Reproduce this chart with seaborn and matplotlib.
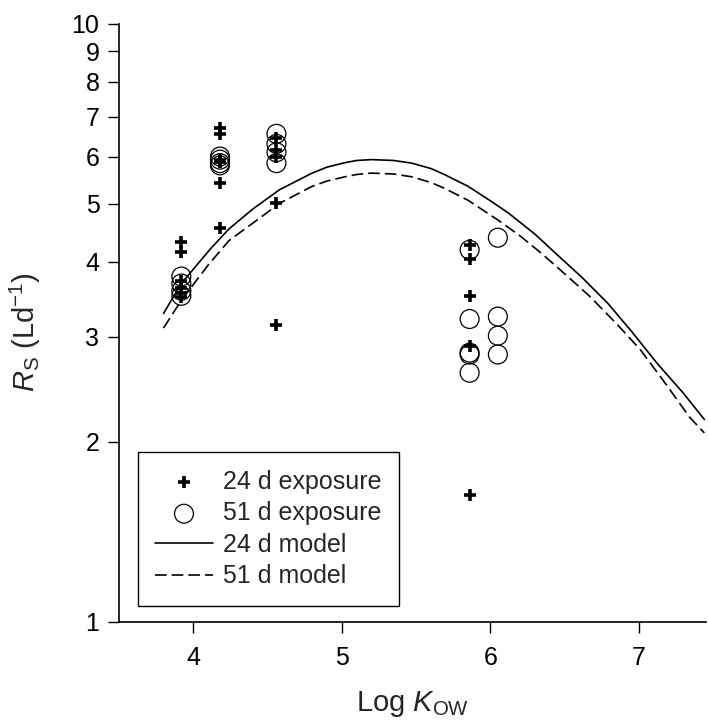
import matplotlib
matplotlib.use("Agg")
from matplotlib import pyplot as plt
from matplotlib.ticker import FixedLocator, NullLocator
import seaborn as sns
import numpy as np

# 24 d exposure (crosses)
kow_24 = [3.92, 3.92, 3.92, 3.92, 3.92, 3.92,
          4.18, 4.18, 4.18, 4.18, 4.18, 4.18,
          4.56, 4.56, 4.56, 4.56, 4.56,
          5.86, 5.86, 5.86, 5.86, 5.86]
rs_24 = [4.32, 4.16, 3.72, 3.62, 3.55, 3.50,
         6.70, 6.55, 5.93, 5.88, 5.42, 4.55,
         6.45, 6.15, 6.00, 5.01, 3.14,
         4.27, 4.04, 3.51, 2.89, 1.63]

# 51 d exposure (open circles)
kow_51 = [3.92, 3.92, 3.92, 3.92,
          4.18, 4.18, 4.18, 4.18,
          4.56, 4.56, 4.56, 4.56,
          5.86, 5.86, 5.86, 5.86, 5.86,
          6.05, 6.05, 6.05, 6.05]
rs_51 = [3.78, 3.68, 3.58, 3.51,
         6.00, 5.93, 5.85, 5.80,
         6.55, 6.30, 6.10, 5.85,
         4.19, 3.21, 2.82, 2.80, 2.61,
         4.39, 3.24, 3.01, 2.80]

# model curves
kow_m24 = [3.80, 3.92, 4.11, 4.24, 4.40, 4.58, 4.80, 4.90, 5.02, 5.10, 5.20,
           5.35, 5.47, 5.60, 5.69, 5.85, 6.00, 6.12, 6.30, 6.45, 6.62, 6.79,
           6.95, 7.12, 7.30, 7.44]
rs_m24 = [3.28, 3.68, 4.19, 4.54, 4.90, 5.28, 5.63, 5.76, 5.86, 5.91, 5.93,
          5.91, 5.85, 5.73, 5.60, 5.35, 5.06, 4.83, 4.45, 4.11, 3.76, 3.41,
          3.06, 2.71, 2.41, 2.18]
kow_m51 = [3.80, 3.92, 4.10, 4.24, 4.46, 4.58, 4.80, 4.90, 5.02, 5.10, 5.20,
           5.35, 5.47, 5.60, 5.69, 5.85, 6.05, 6.20, 6.34, 6.50, 6.67, 6.85,
           7.01, 7.18, 7.34, 7.44]
rs_m51 = [3.10, 3.45, 3.95, 4.34, 4.76, 5.01, 5.35, 5.46, 5.55, 5.60, 5.63,
          5.61, 5.55, 5.43, 5.31, 5.07, 4.70, 4.42, 4.14, 3.82, 3.50, 3.15,
          2.85, 2.50, 2.20, 2.07]

y_ticks = [1, 2, 3, 4, 5, 6, 7, 8, 9, 10]
x_ticks = [4, 5, 6, 7]

sns.set_style("ticks")
plt.rcParams['font.family'] = ['Liberation Sans', 'DejaVu Sans']
plt.rcParams['mathtext.fontset'] = 'custom'
plt.rcParams['mathtext.rm'] = 'Liberation Sans'
plt.rcParams['mathtext.it'] = 'Liberation Sans:italic'

fig, ax = plt.subplots(figsize=(7.08, 7.24), dpi=100)
fig.subplots_adjust(left=0.168, right=0.997, top=0.967, bottom=0.141)

sns.lineplot(x=kow_m24, y=rs_m24, ax=ax, color="black", linewidth=1.2,
             label="24 d model", sort=False)
sns.lineplot(x=kow_m51, y=rs_m51, ax=ax, color="black", linewidth=1.2,
             linestyle=(0, (7, 3)), label="51 d model", sort=False)
sns.scatterplot(x=kow_51, y=rs_51, ax=ax, marker="o", s=185,
                facecolors="none", edgecolor="black", linewidth=0.9,
                label="51 d exposure", zorder=3)
sns.scatterplot(x=kow_24, y=rs_24, ax=ax, marker="+", s=80, color="black",
                linewidth=2.6, label="24 d exposure", zorder=4)

ax.set_yscale("log")
ax.set_ylim(1, 10)
ax.set_xlim(3.5, 7.45)
ax.yaxis.set_major_locator(FixedLocator(y_ticks))
ax.yaxis.set_minor_locator(NullLocator())
ax.set_yticklabels([str(t) for t in y_ticks])
ax.set_xticks(x_ticks)
ax.set_xticklabels([str(t) for t in x_ticks])
ax.tick_params(axis="both", direction="out", length=8, width=1,
               labelsize=18, color="black", labelcolor="black")
ax.tick_params(axis="x", pad=9)
ax.tick_params(axis="y", pad=6)

for side in ["top", "right"]:
    ax.spines[side].set_visible(False)
for side in ["left", "bottom"]:
    ax.spines[side].set_linewidth(1.2)
    ax.spines[side].set_color("black")

ax.set_xlabel(r"Log $\mathit{K}_{\mathrm{OW}}$", fontsize=21, labelpad=14)
ax.set_ylabel(r"$\mathit{R}_{\mathrm{S}}$ (Ld$^{\mathrm{-1}}$)", fontsize=21)
ax.yaxis.set_label_coords(-0.13, 0.485)

h, l = ax.get_legend_handles_labels()
order = [l.index(n) for n in ["24 d exposure", "51 d exposure",
                              "24 d model", "51 d model"]]
leg = ax.legend([h[i] for i in order], [l[i] for i in order],
                loc="lower left", bbox_to_anchor=(0.032, 0.027),
                borderaxespad=0, fancybox=False, framealpha=1,
                edgecolor="black", fontsize=18, handlelength=2.3,
                labelspacing=0.3, borderpad=0.7, handletextpad=0.4)
leg.get_frame().set_linewidth(1.0)

plt.savefig("out.png", dpi=100)
